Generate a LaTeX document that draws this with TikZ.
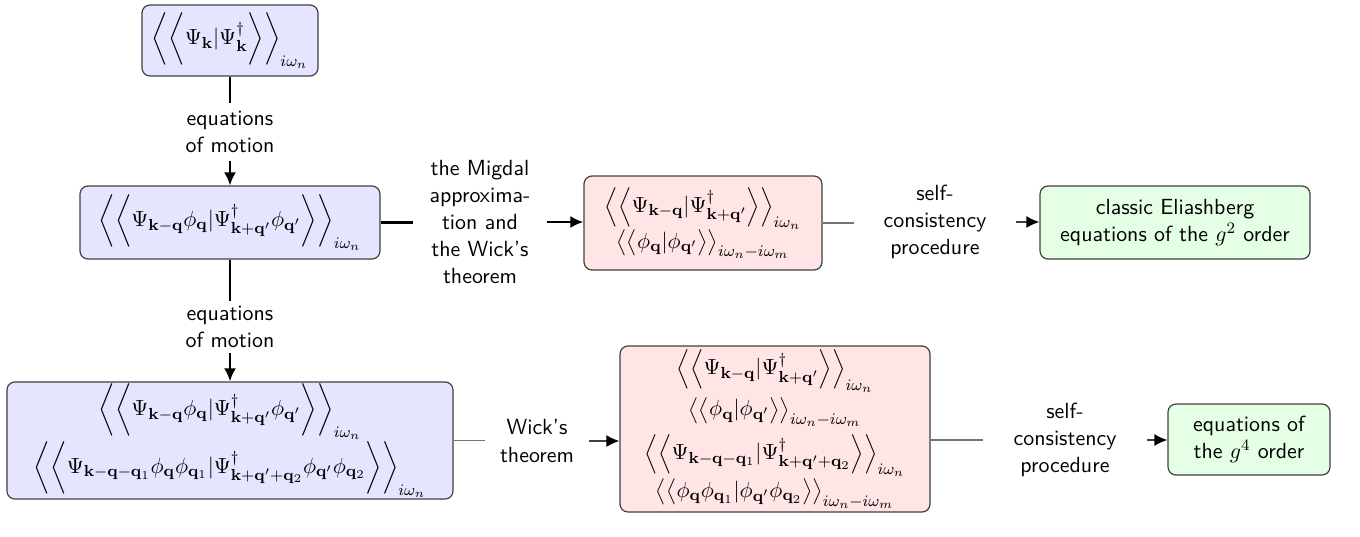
\documentclass[11pt,tikz,border=0pt]{standalone}
\usepackage{amsmath}
\usetikzlibrary{arrows.meta,calc}
\newcommand{\mk}{\mathbf{k}}
\newcommand{\mq}{\mathbf{q}}
\begin{document}
\begin{tikzpicture}[x=1pt,y=1pt,
  box/.style={draw=black!75, line width=0.6pt, rounded corners=4pt, align=center, inner sep=1pt},
  bluebox/.style={box, fill=blue!10},
  redbox/.style={box, fill=red!10},
  greenbox/.style={box, fill=green!10, font=\sffamily},
  lbl/.style={align=center, font=\sffamily, inner sep=0pt},
  mainln/.style={line width=1.1pt, black},
  mainarr/.style={mainln, -{Latex[length=6.5pt,width=6pt]}},
  sideln/.style={line width=0.8pt, black!55},
  sidearr/.style={line width=0.8pt, black!75, -{Latex[length=6.5pt,width=6pt,color=black]}}
]
\path[use as bounding box] (0,0) rectangle (680,-268);

\node[bluebox, minimum width=88pt, minimum height=35.5pt] (A1) at (115,-20.25)
  {$\biggl\langle\biggl\langle \Psi_{\mk}|\Psi^{\dagger}_{\mk}\biggr\rangle\biggr\rangle_{i\omega_n}$};
\node[bluebox, minimum width=150pt, minimum height=36.5pt] (A2) at (115,-111.25)
  {$\biggl\langle\biggl\langle \Psi_{\mk-\mq}\phi_{\mq}|\Psi^{\dagger}_{\mk+\mq'}\phi_{\mq'}\biggr\rangle\biggr\rangle_{i\omega_n}$};
\node[bluebox, minimum width=223pt, minimum height=57.5pt] (A3) at (115,-220.25)
  {$\biggl\langle\biggl\langle \Psi_{\mk-\mq}\phi_{\mq}|\Psi^{\dagger}_{\mk+\mq'}\phi_{\mq'}\biggr\rangle\biggr\rangle_{i\omega_n}$\\[0pt]
   $\biggl\langle\biggl\langle \Psi_{\mk-\mq-\mq_1}\phi_{\mq}\phi_{\mq_1}|\Psi^{\dagger}_{\mk+\mq'+\mq_2}\phi_{\mq'}\phi_{\mq_2}\biggr\rangle\biggr\rangle_{i\omega_n}$};

\node[redbox, minimum width=119pt, minimum height=47pt] (R1) at (351.5,-111.5)
  {$\Bigl\langle\Bigl\langle \Psi_{\mk-\mq}|\Psi^{\dagger}_{\mk+\mq'}\Bigr\rangle\Bigr\rangle_{i\omega_n}$\\[-1pt]
   $\bigl\langle\bigl\langle \phi_{\mq}|\phi_{\mq'}\bigr\rangle\bigr\rangle_{i\omega_n-i\omega_m}$};
\node[redbox, minimum width=155pt, minimum height=83pt] (R2) at (387.5,-214.5)
  {$\Bigl\langle\Bigl\langle \Psi_{\mk-\mq}|\Psi^{\dagger}_{\mk+\mq'}\Bigr\rangle\Bigr\rangle_{i\omega_n}$\\[1.5pt]
   $\bigl\langle\bigl\langle \phi_{\mq}|\phi_{\mq'}\bigr\rangle\bigr\rangle_{i\omega_n-i\omega_m}$\\[3pt]
   $\Bigl\langle\Bigl\langle \Psi_{\mk-\mq-\mq_1}|\Psi^{\dagger}_{\mk+\mq'+\mq_2}\Bigr\rangle\Bigr\rangle_{i\omega_n}$\\[0pt]
   $\bigl\langle\bigl\langle \phi_{\mq}\phi_{\mq_1}|\phi_{\mq'}\phi_{\mq_2}\bigr\rangle\bigr\rangle_{i\omega_n-i\omega_m}$};

\node[greenbox, minimum width=135pt, minimum height=36.5pt] (G1) at (587.5,-111.25)
  {classic Eliashberg\\equations of the $g^2$ order};
\node[greenbox, minimum width=81pt, minimum height=35.5pt] (G2) at (624.5,-219.75)
  {equations of\\the $g^4$ order};

\node[lbl, minimum width=60pt, minimum height=28.5pt] (L1) at (115,-66) {equations\\of motion};
\node[lbl, minimum width=66.5pt] (L2) at (240,-111) {the Migdal\\approxima-\\tion and\\the Wick's\\theorem};
\node[lbl, minimum width=81pt] (L3) at (467.5,-111) {self-\\consistency\\procedure};
\node[lbl, minimum width=60pt, minimum height=26pt] (L4) at (115,-163.5) {equations\\of motion};
\node[lbl, minimum width=51.5pt] (L5) at (268.5,-220.5) {Wick's\\theorem};
\node[lbl, minimum width=81.5pt] (L6) at (532.5,-220) {self-\\consistency\\procedure};

\draw[mainln] (A1.south) -- (L1.north);
\draw[mainarr] (L1.south) -- (A2.north);
\draw[mainln] (A2.east) -- (A2.east -| L2.west);
\draw[mainarr] (L2.east) -- (L2.east -| R1.west);
\draw[sideln] (R1.east) -- (R1.east -| L3.west);
\draw[sidearr] (L3.east) -- (L3.east -| G1.west);
\draw[mainln] (A2.south) -- (L4.north);
\draw[mainarr] (L4.south) -- (A3.north);
\draw[sideln] (A3.east) -- (A3.east -| L5.west);
\draw[sidearr] (L5.east) -- (L5.east -| R2.west);
\draw[sideln] (R2.east |- L6.west) -- (L6.west);
\draw[sidearr] (L6.east) -- (L6.east -| G2.west);
\end{tikzpicture}
\end{document}
